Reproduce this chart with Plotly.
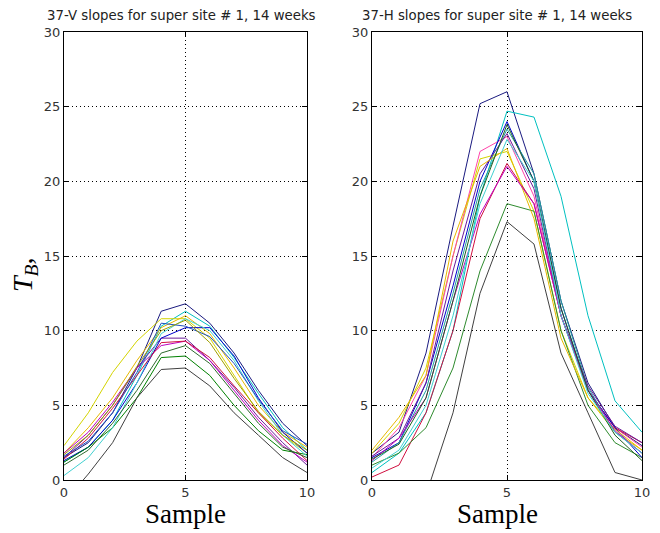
import plotly.graph_objects as go

# sample index 0..10
samples = list(range(11))

# 37-V slopes, 14 weeks
v_slopes = [
    [1.5, 2.5, 4.5, 7.5, 11.3, 11.8, 10.5, 8.5, 6.0, 3.8, 2.3],
    [1.2, 2.2, 4.0, 7.0, 10.3, 11.3, 10.3, 8.2, 5.8, 3.5, 2.0],
    [2.3, 4.5, 7.2, 9.3, 10.8, 10.8, 9.5, 7.0, 4.5, 3.0, 1.8],
    [1.8, 3.5, 5.5, 8.0, 10.2, 11.0, 9.8, 7.5, 5.0, 3.2, 2.2],
    [1.5, 3.0, 5.0, 7.5, 9.5, 9.5, 8.0, 6.2, 4.2, 2.5, 1.0],
    [1.8, 3.2, 5.2, 7.5, 9.0, 9.3, 8.0, 6.0, 4.0, 2.3, 1.2],
    [1.3, 2.2, 4.0, 6.5, 9.5, 10.2, 10.2, 8.3, 5.5, 3.2, 1.8],
    [1.2, 2.2, 3.5, 5.5, 8.2, 8.3, 7.0, 5.0, 3.3, 2.0, 1.7],
    [-1.5, 0.4, 2.5, 5.5, 7.4, 7.5, 6.3, 4.5, 3.0, 1.5, 0.5],
    [0.3, 1.5, 3.5, 6.5, 9.8, 10.8, 10.0, 8.0, 5.3, 3.0, 1.6],
    [1.4, 2.8, 4.8, 7.0, 9.2, 9.3, 8.2, 6.3, 4.5, 2.8, 1.3],
    [1.0, 2.0, 3.8, 6.0, 8.5, 9.0, 7.8, 5.8, 3.8, 2.2, 1.5],
    [1.6, 2.6, 4.5, 7.2, 10.5, 10.3, 9.6, 7.8, 5.4, 3.3, 2.4],
    [1.7, 3.0, 5.0, 7.6, 10.0, 10.7, 9.2, 6.8, 4.6, 3.0, 2.0],
]

# 37-H slopes, 14 weeks
h_slopes = [
    [1.8, 3.2, 8.5, 17.0, 25.2, 26.0, 20.5, 12.0, 6.5, 3.5, 2.3],
    [0.5, 1.8, 4.5, 10.0, 19.0, 24.7, 24.3, 19.0, 11.0, 5.3, 3.2],
    [1.8, 3.8, 7.5, 15.0, 21.5, 22.0, 18.0, 10.0, 5.5, 3.2, 2.0],
    [1.5, 3.5, 7.0, 15.0, 22.0, 23.0, 19.0, 11.0, 6.0, 3.5, 2.2],
    [0.2, 1.0, 4.5, 10.0, 17.5, 21.2, 18.5, 11.0, 6.0, 3.5, 2.5],
    [1.0, 1.8, 3.5, 7.5, 14.0, 18.5, 18.0, 10.0, 5.0, 2.5, 1.5],
    [-3.0, -1.5, -1.0, 4.5, 12.5, 17.3, 15.8, 8.5, 4.5, 0.5, 0.0],
    [1.5, 2.5, 6.5, 13.0, 20.0, 24.0, 20.0, 11.5, 6.0, 3.5, 1.5],
    [1.2, 2.5, 6.0, 12.5, 19.5, 23.5, 20.5, 12.0, 6.2, 3.2, 1.8],
    [1.6, 2.8, 6.5, 14.0, 20.5, 23.2, 19.5, 11.0, 6.3, 3.6, 2.5],
    [2.0, 4.2, 7.0, 16.0, 21.0, 22.2, 17.5, 9.5, 5.5, 3.4, 2.0],
    [1.3, 2.8, 5.5, 12.0, 17.8, 21.0, 18.5, 11.0, 6.0, 3.3, 1.8],
    [1.4, 2.4, 5.5, 12.0, 19.0, 23.8, 20.0, 11.5, 6.0, 3.0, 1.3],
    [0.8, 2.0, 5.0, 11.0, 18.5, 22.8, 20.0, 11.0, 5.8, 3.2, 1.8],
]

colors = ["#1a1a80", "#00bfbf", "#d4d400", "#e6b800", "#6a1b9a", "#bf00bf", "#0000cc",
          "#008000", "#404040", "#40d0d0", "#d01040", "#2e6b2e", "#2050c0", "#a0a000"]
h_colors = ["#1a1a80", "#00c0c0", "#d4d400", "#ff44aa", "#d01040", "#2e8b2e", "#404040",
            "#0000cc", "#20a0a0", "#6a1b9a", "#e6b800", "#bf00bf", "#1f5f1f", "#40d0d0"]

fig = go.Figure()
for ys, c in zip(v_slopes, colors):
    fig.add_trace(go.Scatter(x=samples, y=ys, mode="lines", line=dict(color=c, width=1),
                             xaxis="x", yaxis="y", showlegend=False))
for ys, c in zip(h_slopes, h_colors):
    fig.add_trace(go.Scatter(x=samples, y=ys, mode="lines", line=dict(color=c, width=1),
                             xaxis="x2", yaxis="y2", showlegend=False))

tickfont = dict(family="DejaVu Sans", size=13, color="#333")
grid = dict(showgrid=True, gridcolor="black", griddash="1px,3px", gridwidth=1, zeroline=False)
xax = dict(range=[0, 10], tickvals=[0, 5, 10], ticks="inside", ticklen=5, mirror="ticks",
           showline=True, linecolor="black", linewidth=1, tickfont=tickfont, tickcolor="black",
           automargin=False, **grid)
yax = dict(range=[0, 30], tickvals=[0, 5, 10, 15, 20, 25, 30], ticks="inside", ticklen=5,
           mirror="ticks", showline=True, linecolor="black", linewidth=1, tickfont=tickfont,
           tickcolor="black", automargin=False, **grid)

W, H = 660, 533
off = 8  # page body offset

fig.update_layout(
    width=W, height=H, margin=dict(l=0, r=0, t=0, b=0),
    paper_bgcolor="white", plot_bgcolor="white",
    xaxis=dict(xax, domain=[(64 - off) / W, (307 - off) / W], anchor="y"),
    yaxis=dict(yax, domain=[1 - (480 - off) / H, 1 - (32 - off) / H], anchor="x"),
    xaxis2=dict(xax, domain=[(372 - off) / W, (642 - off) / W], anchor="y2"),
    yaxis2=dict(yax, domain=[1 - (480 - off) / H, 1 - (32 - off) / H], anchor="x2"),
)


def note(text, x, y, font, angle=0):
    fig.add_annotation(text=text, x=(x - off) / W, y=1 - (y - off) / H, xref="paper",
                       yref="paper", xanchor="center", yanchor="middle", showarrow=False,
                       font=font, textangle=angle)


titlefont = dict(family="DejaVu Sans", size=13.3, color="#222")
note("37-V slopes for super site # 1, 14 weeks", 181, 15, titlefont)
note("37-H slopes for super site # 1, 14 weeks", 497, 15, titlefont)

labelfont = dict(family="Liberation Serif, serif", size=27, color="black")
note("Sample", 185, 514, labelfont)
note("Sample", 497, 514, labelfont)
note("<i>T</i><sub><i>B</i></sub><i>,</i>", 24, 275,
     dict(family="Liberation Serif, serif", size=28, color="black"), angle=-90)

fig.write_html("out.html")
